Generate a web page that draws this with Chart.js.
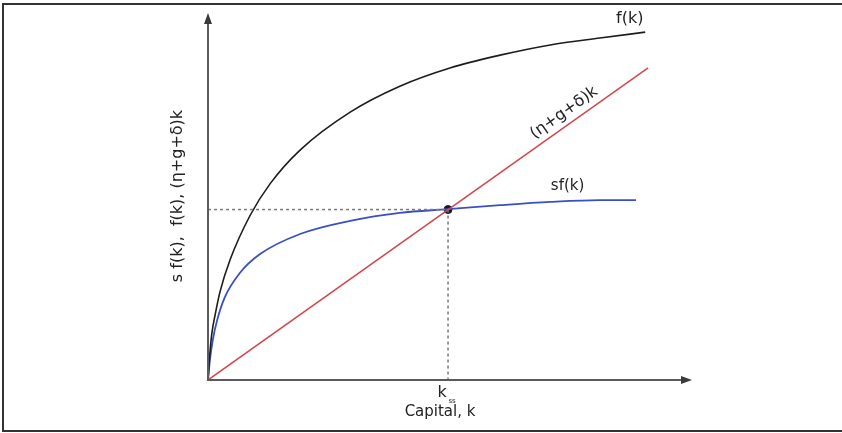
<!DOCTYPE html>
<html>
  <head>
    <script src="https://cdn.jsdelivr.net/npm/chart.js@4.4.1/dist/chart.umd.min.js"></script>
    <style type="text/css">
      body { margin: 0; background: #fff; }
      .wrap { position: relative; width: 842px; height: 433px; }
      .frame { position: absolute; left: 2px; top: 3px; width: 860px; height: 425px;
               border-left: 2px solid #333; border-top: 2px solid #333; border-bottom: 2px solid #333; }
      canvas { position: absolute; left: 0; top: 0; }
    </style>
  </head>
  <body>
    <div class="wrap">
      <div class="frame"></div>
      <canvas id="canvas" width="842" height="433"></canvas>
    </div>

    <script type="text/javascript">
      // values (k from 0 to 100, output from 0 to 100)
      var kValues   = [0, 0.4, 0.8, 1.5, 2.5, 4.6, 8.7, 12.9, 19.1, 29.5, 39.8, 50.2, 60.6, 71.0, 81.3, 90.7];
      var fValues   = [0, 7.5, 12.8, 18.0, 24.2, 33.0, 45.0, 53.8, 63.0, 73.4, 80.5, 85.5, 89.0, 91.8, 93.7, 95.3];

      var sfK       = [0, 0.4, 1.0, 1.9, 3.5, 6.6, 10.8, 19.1, 29.5, 39.8, 49.8, 60.6, 71.0, 81.3, 88.8];
      var sfValues  = [0, 5.5, 11.0, 16.4, 22.7, 29.3, 34.5, 40.0, 43.6, 45.8, 46.8, 47.9, 48.8, 49.3, 49.3];

      var lineK     = [0, 91.3];
      var lineValues = [0, 85.5];

      var kSteady = 49.8;
      var ySteady = 46.7;

      var toPoints = function(xs, ys) {
        return xs.map(function(x, i) { return { x: x, y: ys[i] }; });
      };

      var font = "'DejaVu Sans', Verdana, sans-serif";

      var decorations = {
        id: "decorations",
        afterDatasetsDraw: function(chart) {
          var ctx = chart.ctx, a = chart.chartArea;
          var xs = chart.scales.x, ys = chart.scales.y;

          // axes with arrow heads
          ctx.save();
          ctx.strokeStyle = "#5a5a5a";
          ctx.fillStyle = "#3a3a3a";
          ctx.lineWidth = 2;
          ctx.beginPath();
          ctx.moveTo(a.left, a.top + 4);
          ctx.lineTo(a.left, a.bottom);
          ctx.lineTo(a.right - 4, a.bottom);
          ctx.stroke();
          ctx.beginPath();
          ctx.moveTo(a.left, a.top - 2);
          ctx.lineTo(a.left - 4, a.top + 9);
          ctx.lineTo(a.left + 4, a.top + 9);
          ctx.closePath();
          ctx.fill();
          ctx.beginPath();
          ctx.moveTo(a.right + 2, a.bottom);
          ctx.lineTo(a.right - 9, a.bottom - 4);
          ctx.lineTo(a.right - 9, a.bottom + 4);
          ctx.closePath();
          ctx.fill();

          // labels
          ctx.fillStyle = "#222";
          ctx.textAlign = "center";
          ctx.textBaseline = "middle";
          ctx.font = "16px " + font;
          ctx.fillText("f(k)", xs.getPixelForValue(87.5), ys.getPixelForValue(99.0));
          ctx.font = "15px " + font;
          ctx.fillText("sf(k)", xs.getPixelForValue(74.6), ys.getPixelForValue(53.2));
          ctx.fillText("Capital, k", xs.getPixelForValue(kSteady) - 8, a.bottom + 32);
          ctx.font = "16px " + font;
          ctx.fillText("k", xs.getPixelForValue(kSteady) - 6, a.bottom + 13);
          ctx.font = "7px " + font;
          ctx.fillText("ss", xs.getPixelForValue(kSteady) + 4, a.bottom + 21);

          // rotated label along the red line
          var x0 = xs.getPixelForValue(0), y0 = ys.getPixelForValue(0);
          var x1 = xs.getPixelForValue(lineK[1]), y1 = ys.getPixelForValue(lineValues[1]);
          var ang = Math.atan2(y1 - y0, x1 - x0);
          var t = 0.825;
          var cx = x0 + (x1 - x0) * t, cy = y0 + (y1 - y0) * t;
          ctx.save();
          ctx.translate(cx, cy);
          ctx.rotate(ang);
          ctx.font = "16px " + font;
          ctx.fillText("(η+g+δ)k", 0, -12);
          ctx.restore();

          // y title
          ctx.save();
          ctx.translate(178, 196);
          ctx.rotate(-Math.PI / 2);
          ctx.font = "16px " + font;
          ctx.fillText("s f(k),  f(k), (η+g+δ)k", 0, 0);
          ctx.restore();
          ctx.restore();
        }
      };

      var ctx = document.getElementById("canvas").getContext("2d");
      new Chart(ctx, {
        type: "scatter",
        data: {
          datasets: [
            {
              data: [{ x: 0, y: ySteady }, { x: kSteady, y: ySteady }],
              showLine: true, borderColor: "#7a7a7a", borderWidth: 1.5,
              borderDash: [3, 3], pointRadius: 0
            },
            {
              data: [{ x: kSteady, y: ySteady }, { x: kSteady, y: 0 }],
              showLine: true, borderColor: "#7a7a7a", borderWidth: 1.5,
              borderDash: [3, 3], pointRadius: 0
            },
            {
              data: toPoints(kValues, fValues),
              showLine: true, borderColor: "#1c1c1c", borderWidth: 1.6,
              pointRadius: 0, cubicInterpolationMode: "monotone"
            },
            {
              data: toPoints(lineK, lineValues),
              showLine: true, borderColor: "#d4464c", borderWidth: 1.5,
              pointRadius: 0
            },
            {
              data: toPoints(sfK, sfValues),
              showLine: true, borderColor: "#3b4fc4", borderWidth: 1.8,
              pointRadius: 0, cubicInterpolationMode: "monotone"
            },
            {
              data: [{ x: kSteady, y: ySteady }],
              backgroundColor: "#111a33", borderColor: "#111a33",
              pointRadius: 4
            }
          ]
        },
        options: {
          responsive: false,
          animation: false,
          devicePixelRatio: 1,
          layout: { padding: { left: 208, top: 15, right: 152, bottom: 53 } },
          scales: {
            x: { type: "linear", min: 0, max: 100, display: false },
            y: { type: "linear", min: 0, max: 100, display: false }
          },
          plugins: { legend: { display: false }, tooltip: { enabled: false } }
        },
        plugins: [decorations]
      });
    </script>
  </body>
</html>
